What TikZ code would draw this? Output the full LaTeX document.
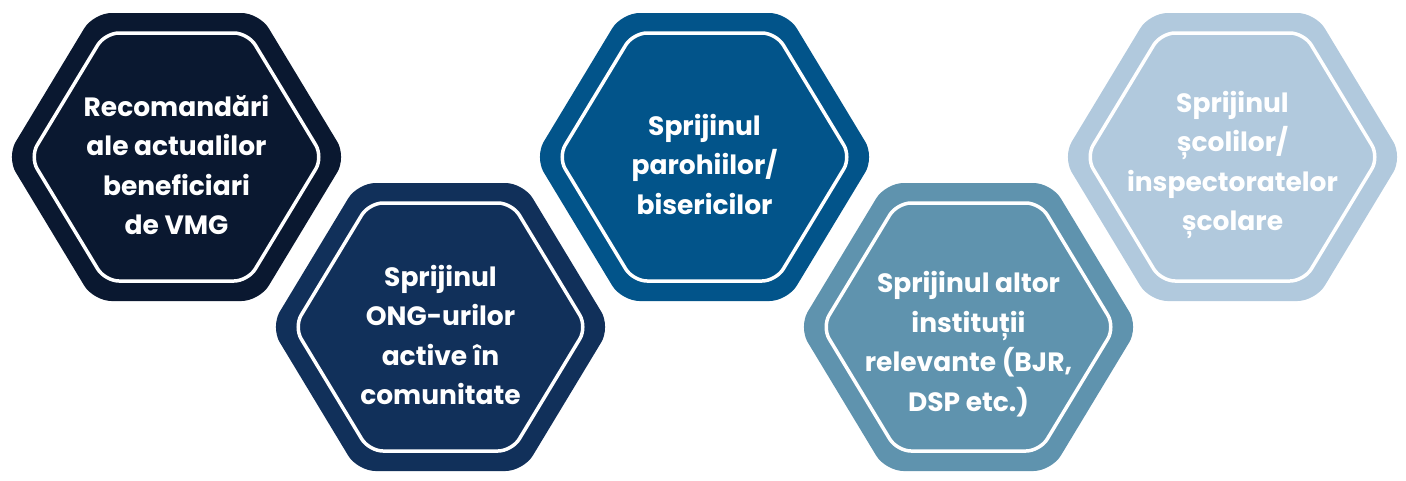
\documentclass[tikz,border=0pt]{standalone}
\usepackage{fontspec}
\setmainfont{Poppins}
\definecolor{cA}{HTML}{0A1830}
\definecolor{cB}{HTML}{11305A}
\definecolor{cC}{HTML}{02548A}
\definecolor{cD}{HTML}{5F93AE}
\definecolor{cE}{HTML}{B1C9DD}
% hexagon path: centre x, centre y, half width, half top edge, half height
\newcommand\hexpathXY[5]{(#1+#3,#2) -- (#1+#4,#2+#5) -- (#1-#4,#2+#5) -- (#1-#3,#2) -- (#1-#4,#2-#5) -- (#1+#4,#2-#5) -- cycle}
\newcommand\hexagonXY[3]{%
  \fill[#3, rounded corners=18pt] \hexpathXY{#1}{#2}{170}{83}{144};
  \draw[white, line width=3.5pt, rounded corners=14pt] \hexpathXY{#1}{#2}{146.5}{71.5}{124};
}
\tikzset{
  hextext/.style={text=white, align=center, font=\fontsize{26.5}{39.5}\selectfont\bfseries, inner sep=0pt}
}
\begin{document}
\begin{tikzpicture}[x=1pt,y=-1pt]
\useasboundingbox (0,0) rectangle (1406,480);
\hexagonXY{176.5}{157}{cA}
\hexagonXY{440.5}{327}{cB}
\hexagonXY{704.5}{157}{cC}
\hexagonXY{968.5}{327}{cD}
\hexagonXY{1232.5}{157}{cE}
\node[hextext] (t1) at (176.5,165) {Recomandări\\ale actualilor\\beneficiari\\de VMG};
\node[hextext] (t2) at (440.5,335) {Sprijinul\\ONG-urilor\\active în\\comunitate};
\node[hextext] (t3) at (704.5,164) {Sprijinul\\parohiilor/\\bisericilor};
\node[hextext] (t4) at (968.5,344) {Sprijinul altor\\instituții\\relevante (BJR,\\DSP etc.)};
\node[hextext] (t5) at (1232.5,165) {Sprijinul\\școlilor/\\inspectoratelor\\școlare};
\end{tikzpicture}
\end{document}
